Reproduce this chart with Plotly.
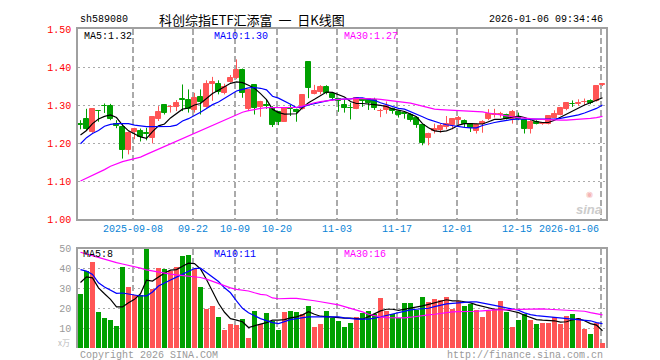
import plotly.graph_objects as go

dates = ["2025-08-26","2025-08-27","2025-08-28","2025-08-29",
 "2025-09-01","2025-09-02","2025-09-03","2025-09-04","2025-09-05","2025-09-08","2025-09-09","2025-09-10","2025-09-11","2025-09-12",
 "2025-09-15","2025-09-16","2025-09-17","2025-09-18","2025-09-19","2025-09-22","2025-09-23","2025-09-24","2025-09-25","2025-09-26",
 "2025-09-29","2025-09-30",
 "2025-10-09","2025-10-10","2025-10-13","2025-10-14","2025-10-15","2025-10-16","2025-10-17","2025-10-20","2025-10-21","2025-10-22",
 "2025-10-23","2025-10-24","2025-10-27","2025-10-28","2025-10-29","2025-10-30","2025-10-31",
 "2025-11-03","2025-11-04","2025-11-05","2025-11-06","2025-11-07","2025-11-10","2025-11-11","2025-11-12","2025-11-13","2025-11-14",
 "2025-11-17","2025-11-18","2025-11-19","2025-11-20","2025-11-21","2025-11-24","2025-11-25","2025-11-26","2025-11-27","2025-11-28",
 "2025-12-01","2025-12-02","2025-12-03","2025-12-04","2025-12-05","2025-12-08","2025-12-09","2025-12-10","2025-12-11","2025-12-12",
 "2025-12-15","2025-12-16","2025-12-17","2025-12-18","2025-12-19","2025-12-22","2025-12-23","2025-12-24","2025-12-25","2025-12-26",
 "2025-12-29","2025-12-30","2025-12-31",
 "2026-01-05","2026-01-06"]

open_ = [1.250,1.264,1.230,1.285,1.298,1.298,1.251,1.243,1.182,1.229,
 1.232,1.227,1.214,1.262,1.300,1.294,1.295,1.317,1.312,1.287,
 1.322,1.296,1.354,1.356,1.332,1.361,1.370,1.393,1.289,1.352,
 1.295,1.300,1.293,1.282,1.256,1.291,1.288,1.289,1.414,1.330,
 1.335,1.347,1.330,1.315,1.300,1.292,1.290,1.315,1.315,1.312,
 1.284,1.286,1.289,1.282,1.278,1.275,1.265,1.247,1.212,1.232,
 1.233,1.242,1.247,1.260,1.258,1.249,1.232,1.251,1.262,1.274,
 1.275,1.275,1.264,1.268,1.260,1.238,1.256,1.250,1.251,1.267,
 1.275,1.289,1.303,1.303,1.308,1.311,1.311,1.352]
high = [1.260,1.290,1.290,1.286,1.304,1.303,1.260,1.251,1.230,1.240,
 1.238,1.240,1.271,1.297,1.302,1.300,1.313,1.354,1.341,1.332,
 1.341,1.365,1.374,1.365,1.356,1.379,1.420,1.396,1.341,1.354,
 1.311,1.315,1.297,1.284,1.293,1.300,1.290,1.328,1.415,1.353,
 1.352,1.352,1.332,1.319,1.315,1.306,1.321,1.318,1.318,1.319,
 1.290,1.309,1.293,1.286,1.282,1.278,1.268,1.249,1.227,1.251,
 1.251,1.271,1.264,1.271,1.262,1.251,1.251,1.260,1.289,1.290,
 1.282,1.277,1.287,1.280,1.262,1.260,1.260,1.254,1.273,1.286,
 1.295,1.306,1.312,1.315,1.317,1.315,1.351,1.356]
low = [1.236,1.232,1.227,1.256,1.279,1.260,1.239,1.159,1.170,1.210,
 1.204,1.207,1.199,1.258,1.275,1.280,1.284,1.284,1.280,1.280,
 1.275,1.293,1.311,1.328,1.328,1.359,1.368,1.319,1.284,1.275,
 1.269,1.290,1.242,1.247,1.256,1.271,1.256,1.288,1.318,1.328,
 1.328,1.328,1.312,1.282,1.280,1.262,1.289,1.295,1.287,1.287,
 1.268,1.277,1.277,1.267,1.264,1.256,1.240,1.194,1.194,1.225,
 1.227,1.236,1.236,1.249,1.242,1.229,1.225,1.227,1.260,1.267,
 1.267,1.262,1.251,1.260,1.225,1.225,1.249,1.248,1.249,1.265,
 1.273,1.286,1.295,1.298,1.300,1.302,1.309,1.350]
close = [1.248,1.238,1.289,1.284,1.297,1.262,1.244,1.182,1.227,1.236,
 1.216,1.223,1.268,1.282,1.278,1.296,1.306,1.312,1.289,1.319,
 1.309,1.354,1.361,1.335,1.347,1.372,1.391,1.331,1.339,1.293,
 1.309,1.298,1.247,1.256,1.291,1.289,1.282,1.326,1.346,1.337,
 1.347,1.332,1.318,1.311,1.291,1.291,1.319,1.311,1.304,1.291,
 1.285,1.297,1.284,1.275,1.277,1.260,1.247,1.201,1.223,1.237,
 1.245,1.249,1.262,1.265,1.251,1.240,1.247,1.256,1.277,1.276,
 1.276,1.264,1.282,1.262,1.236,1.256,1.251,1.252,1.271,1.277,
 1.291,1.304,1.302,1.306,1.309,1.304,1.350,1.356]

ma5 = [1.221,1.233,1.251,1.263,1.270,1.274,1.267,1.247,1.232,1.223,
 1.216,1.212,1.230,1.245,1.250,1.266,1.278,1.289,1.292,1.300,
 1.304,1.318,1.330,1.339,1.347,1.357,1.361,1.359,1.352,1.344,
 1.330,1.314,1.289,1.280,1.276,1.276,1.277,1.293,1.306,1.315,
 1.325,1.334,1.333,1.328,1.321,1.309,1.304,1.304,1.303,1.301,
 1.299,1.296,1.290,1.286,1.283,1.276,1.269,1.251,1.240,1.232,
 1.230,1.232,1.238,1.247,1.251,1.251,1.251,1.250,1.256,1.262,
 1.262,1.265,1.270,1.271,1.267,1.261,1.256,1.254,1.254,1.260,
 1.268,1.276,1.285,1.293,1.300,1.306,1.312,1.319]
ma10 = [1.198,1.214,1.225,1.233,1.244,1.249,1.251,1.251,1.251,1.247,
 1.245,1.243,1.243,1.243,1.243,1.244,1.247,1.258,1.264,1.272,
 1.281,1.291,1.301,1.308,1.318,1.327,1.337,1.341,1.345,1.346,
 1.344,1.340,1.323,1.318,1.311,1.302,1.293,1.295,1.300,1.304,
 1.306,1.310,1.314,1.315,1.315,1.316,1.319,1.319,1.315,1.312,
 1.306,1.301,1.294,1.291,1.289,1.283,1.276,1.269,1.262,1.256,
 1.252,1.248,1.245,1.243,1.241,1.240,1.240,1.246,1.251,1.254,
 1.257,1.260,1.262,1.263,1.263,1.262,1.262,1.262,1.262,1.263,
 1.265,1.268,1.270,1.274,1.279,1.284,1.291,1.300]
ma30 = [1.100,1.107,1.114,1.121,1.130,1.139,1.146,1.151,1.155,1.158,
 1.163,1.170,1.177,1.185,1.190,1.197,1.204,1.212,1.219,1.226,
 1.233,1.240,1.247,1.255,1.262,1.269,1.276,1.281,1.285,1.289,
 1.291,1.293,1.293,1.293,1.293,1.293,1.294,1.297,1.302,1.306,
 1.309,1.312,1.313,1.315,1.316,1.316,1.317,1.317,1.317,1.316,
 1.315,1.313,1.311,1.309,1.307,1.305,1.301,1.297,1.293,1.289,
 1.288,1.287,1.286,1.285,1.285,1.284,1.283,1.282,1.279,1.276,
 1.274,1.271,1.269,1.267,1.265,1.264,1.263,1.262,1.262,1.261,
 1.260,1.260,1.261,1.262,1.263,1.265,1.267,1.270]

volume = [27.3,38.7,43.3,18.3,15.3,14.5,11.3,40.8,30.8,26.7,
 26.7,49.8,30.0,40.3,39.8,38.7,40.8,46.5,47.0,40.0,
 30.8,20.0,21.5,15.8,9.0,12.3,11.5,15.0,5.0,18.8,
 12.3,17.8,14.0,9.0,18.3,19.0,18.3,17.3,21.3,10.8,
 12.0,18.8,15.3,13.7,10.8,12.8,15.8,17.8,18.8,17.3,
 25.3,18.8,17.3,15.3,22.8,22.8,19.5,25.8,23.3,24.8,
 24.5,25.8,20.0,23.7,21.5,22.5,19.5,15.8,19.0,19.8,
 24.0,18.3,10.8,14.5,17.3,14.5,12.3,12.8,12.8,15.7,
 12.0,16.5,17.3,15.3,9.5,7.0,12.5,2.8]
vma5 = [33.0,35.8,35.3,30.3,27.3,24.5,20.7,20.7,22.8,24.5,
 27.3,34.2,33.7,35.7,37.8,39.2,39.5,41.2,42.7,42.5,
 39.8,34.5,28.5,22.5,18.0,14.8,14.0,13.2,10.3,11.3,
 12.0,12.8,14.0,14.0,14.3,15.2,15.7,16.7,18.3,17.0,
 16.0,15.8,15.5,15.3,15.0,15.0,14.7,14.5,15.8,17.3,
 18.7,19.5,19.5,19.0,19.5,20.3,20.7,21.2,22.0,22.7,
 23.3,24.3,23.7,23.8,23.3,22.7,21.7,21.0,20.3,19.5,
 19.5,19.2,18.5,17.8,16.5,15.3,14.3,14.0,14.0,13.7,
 13.0,13.2,14.2,14.8,13.7,12.3,11.5,8.7]
vma10 = [39.5,38.7,37.0,32.8,30.7,29.2,27.5,27.7,27.3,26.7,
 26.2,26.2,28.2,31.2,32.5,34.2,35.7,37.0,38.7,40.0,
 40.2,38.0,35.7,33.5,30.3,27.8,23.7,20.0,17.7,16.2,
 14.8,13.8,12.8,12.3,13.2,14.3,14.8,15.3,15.7,15.7,
 15.7,15.7,15.7,15.7,15.2,14.8,14.5,14.5,14.5,15.0,
 15.7,16.3,17.2,17.8,18.7,19.2,19.5,19.7,20.0,20.8,
 21.5,22.2,22.5,22.8,23.0,23.2,23.2,22.7,22.0,21.5,
 20.8,20.2,19.5,19.0,17.7,16.8,16.3,16.0,15.8,15.5,
 15.2,14.7,14.3,14.2,14.0,13.7,12.8,12.3]
vma30 = [48.2,47.3,46.5,45.7,44.8,43.7,43.0,42.3,41.7,40.8,
 40.2,39.3,38.7,38.2,37.7,37.2,36.8,36.5,36.2,35.8,
 35.5,34.7,33.5,32.3,31.3,30.3,29.5,29.0,28.7,27.8,
 27.0,26.7,25.2,24.8,25.0,25.0,25.0,24.7,24.3,23.8,
 23.3,22.8,22.3,21.7,20.8,20.0,19.2,18.2,17.0,16.2,
 15.7,15.3,15.2,15.0,15.2,15.5,16.0,16.3,16.7,17.0,
 17.5,17.8,18.2,18.3,18.3,18.3,18.5,18.7,19.0,19.2,
 19.2,19.3,19.3,19.5,19.7,19.7,19.7,19.7,19.5,19.3,
 19.0,18.8,18.7,18.7,18.5,17.8,17.2,16.7]

tick_dates = ["2025-09-08","2025-09-22","2025-10-09","2025-10-20","2025-11-03",
              "2025-11-17","2025-12-01","2025-12-15","2026-01-06"]
tick_labels = ["2025-09-08","09-22","10-09","10-20","11-03","11-17","12-01","12-15","2026-01-06"]
price_ticks = [1.00, 1.10, 1.20, 1.30, 1.40, 1.50]
vol_ticks = [10, 20, 30, 40, 50]

code = "sh589080"
title = "科创综指ETF汇添富&nbsp; 一 &nbsp;日K线图"
stamp = "2026-01-06 09:34:46"

RED = "#FF5555"
GREEN = "#00A000"
GRID = "#AAAAAA"
BORDER = "#A0A0A0"
MONO = "Liberation Mono, DejaVu Sans Mono, monospace"

n = len(dates)
x = list(range(n))
up = [c >= o for o, c in zip(open_, close)]

fig = go.Figure()

# wicks
for flag, col in ((True, RED), (False, GREEN)):
    wx, wy = [], []
    for i in x:
        if up[i] == flag:
            wx += [i, i, None]
            wy += [low[i], high[i], None]
    fig.add_trace(go.Scatter(x=wx, y=wy, mode="lines", line=dict(color=col, width=1),
                             xaxis="x", yaxis="y", hoverinfo="skip", showlegend=False))
# bodies
for flag, col in ((True, RED), (False, GREEN)):
    idx = [i for i in x if up[i] == flag]
    fig.add_trace(go.Bar(x=idx, base=[min(open_[i], close[i]) for i in idx],
                         y=[abs(close[i] - open_[i]) for i in idx], width=0.7,
                         marker=dict(color=col, line=dict(color=col, width=1)),
                         xaxis="x", yaxis="y", showlegend=False))

for arr, col in ((ma5, "#000000"), (ma10, "#0000FF"), (ma30, "#FF00FF")):
    fig.add_trace(go.Scatter(x=x, y=arr, mode="lines", line=dict(color=col, width=1.2),
                             xaxis="x", yaxis="y", showlegend=False))

fig.add_trace(go.Bar(x=x, y=volume, width=0.84,
                     marker=dict(color=[RED if u else GREEN for u in up], line=dict(width=0)),
                     xaxis="x2", yaxis="y2", showlegend=False))
for arr, col in ((vma5, "#000000"), (vma10, "#0000FF"), (vma30, "#FF00FF")):
    fig.add_trace(go.Scatter(x=x, y=arr, mode="lines", line=dict(color=col, width=1.2),
                             xaxis="x2", yaxis="y2", showlegend=False))

# geometry helpers (pixels -> paper)
L, R, T, B = 70, 598, 21, 340
def px(v):
    return (v - L) / (R - L)
def py(v):
    return (B - v) / (B - T)

grid_x = [dates.index(d) - 1/3 for d in tick_dates]
xr = [-0.4167, n - 0.4167]

fig.update_layout(
    width=660, height=360,
    margin=dict(l=L, r=660 - R, t=T, b=360 - B),
    paper_bgcolor="white", plot_bgcolor="white",
    barmode="overlay", bargap=0,
    showlegend=False,
    xaxis=dict(domain=[0, 1], range=xr, anchor="y", tickvals=grid_x, showticklabels=False,
               ticks="", showgrid=True, gridcolor=GRID, griddash="6px,3px", gridwidth=1.5,
               showline=True, mirror=True, linecolor=BORDER, linewidth=1.5, zeroline=False),
    yaxis=dict(domain=[py(211), 1], range=[1.0, 1.5], tickvals=price_ticks,
               ticktext=[f"{v:.2f}" for v in price_ticks], ticks="", ticklabelstandoff=3,
               tickfont=dict(family=MONO, size=10, color="#FF0000"),
               showgrid=True, gridcolor=GRID, griddash="2px,3px", gridwidth=1,
               showline=True, mirror=True, linecolor=BORDER, linewidth=1.5, zeroline=False),
    xaxis2=dict(domain=[0, 1], range=xr, anchor="y2", matches="x", side="top",
                tickvals=grid_x, showticklabels=False, ticks="",
                showgrid=True, gridcolor=GRID, griddash="6px,3px", gridwidth=1.5,
                showline=True, mirror=False, linecolor=BORDER, linewidth=1.5, zeroline=False),
    yaxis2=dict(domain=[0, py(240.7)], range=[0, 50], tickvals=vol_ticks,
                ticktext=[str(v) for v in vol_ticks], ticks="", ticklabelstandoff=3,
                tickfont=dict(family=MONO, size=10, color="#999999"),
                showgrid=True, gridcolor=GRID, griddash="2px,3px", gridwidth=1,
                showline=True, mirror=True, linecolor=BORDER, linewidth=1.5, zeroline=False),
)

ann = []
def text(xp, yp, s, color="#000000", size=10, anchor="left", family=MONO, **kw):
    ann.append(dict(x=px(xp), y=py(yp), xref="paper", yref="paper", text=s, showarrow=False,
                    xanchor=anchor, yanchor="middle", font=dict(family=family, size=size, color=color), **kw))

text(70, 12, code)
text(244, 12, title, size=13, anchor="center", family="Noto Sans CJK SC")
text(597, 12, stamp, anchor="right")
text(74, 28, f"MA5:{ma5[-1]:.2f}")
text(204, 28, f"MA10:{ma10[-1]:.2f}", color="#0000FF")
text(334, 28, f"MA30:{ma30[-1]:.2f}", color="#FF00FF")
text(73, 246, "MA5:8")
text(204, 246, "MA10:11", color="#0000FF")
text(334, 246, "MA30:16", color="#FF00FF")
text(70, 347, "Copyright 2026 SINA.COM", color="#999999")
text(597, 347, "http://finance.sina.com.cn", color="#999999", anchor="right")
text(64, 334, "x万", color="#BBBBBB", size=8, anchor="right", family="Noto Sans CJK SC")
text(581, 195, "<span style='color:#F4B5B5;font-size:8px'>◉</span><br><b><i>sina</i></b>",
     color="#CCCCCC", size=13, anchor="center", family="Liberation Sans")

for d, lab in zip(tick_dates, tick_labels):
    gx = 70 + (dates.index(d) - 1/3 - xr[0]) * (R - L) / (xr[1] - xr[0])
    anchor = "right" if d == tick_dates[-1] else "center"
    text(gx, 221.5, lab, color="#0A84D6", anchor=anchor)

fig.update_layout(annotations=ann)
fig.write_html("out.html")
